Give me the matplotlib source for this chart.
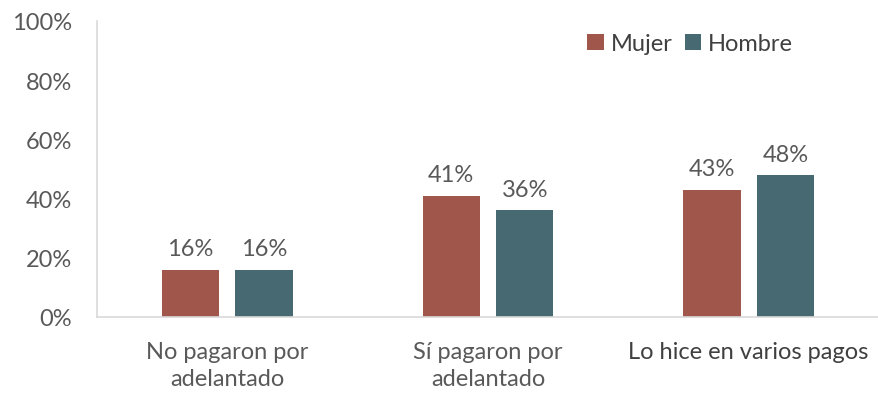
import matplotlib.pyplot as plt
import numpy as np

categories = ["No pagaron por\nadelantado", "Sí pagaron por\nadelantado", "Lo hice en varios pagos"]
mujer = [16, 41, 43]
hombre = [16, 36, 48]
yticks = [0, 20, 40, 60, 80, 100]

c_mujer = "#A0564B"
c_hombre = "#476A72"
txt = "#595959"

plt.rcParams['font.family'] = ['Lato', 'DejaVu Sans']

fig = plt.figure(figsize=(8.79, 4.02), dpi=100)
ax = fig.add_axes([97/879, 1 - 318/402, (879 - 97)/879, (318 - 22)/402])

x = np.arange(len(categories))
w = 0.22
off = 0.141
b1 = ax.bar(x - off, mujer, w, color=c_mujer, label="Mujer")
b2 = ax.bar(x + off, hombre, w, color=c_hombre, label="Hombre")

for bars, vals in ((b1, mujer), (b2, hombre)):
    for b, v in zip(bars, vals):
        ax.text(b.get_x() + b.get_width()/2, v + 3.5, f"{v}%", ha="center", va="bottom",
                fontsize=17, color=txt)

ax.set_xlim(-0.5, 2.5)
ax.set_ylim(0, 100)
ax.set_yticks(yticks)
ax.set_yticklabels([f"{t}%" for t in yticks], fontsize=17, color=txt)
ax.set_xticks(x)
ax.set_xticklabels(categories, fontsize=17, color=txt, linespacing=1.35)
ax.xaxis.get_ticklabels()[2].set_color("#404040")
ax.tick_params(axis="both", length=0)
ax.tick_params(axis="y", pad=18)
ax.tick_params(axis="x", pad=17)

for s in ("top", "right"):
    ax.spines[s].set_visible(False)
for s in ("left", "bottom"):
    ax.spines[s].set_color("#D9D9D9")
    ax.spines[s].set_linewidth(1.2)

ax.legend(loc="upper left", bbox_to_anchor=(0.6, 1.03), ncol=2, frameon=False,
          prop={'size': 17}, handlelength=0.7, handleheight=0.7,
          handletextpad=0.3, columnspacing=0.5, labelcolor="#404040")

fig.savefig("out.png", dpi=100)
